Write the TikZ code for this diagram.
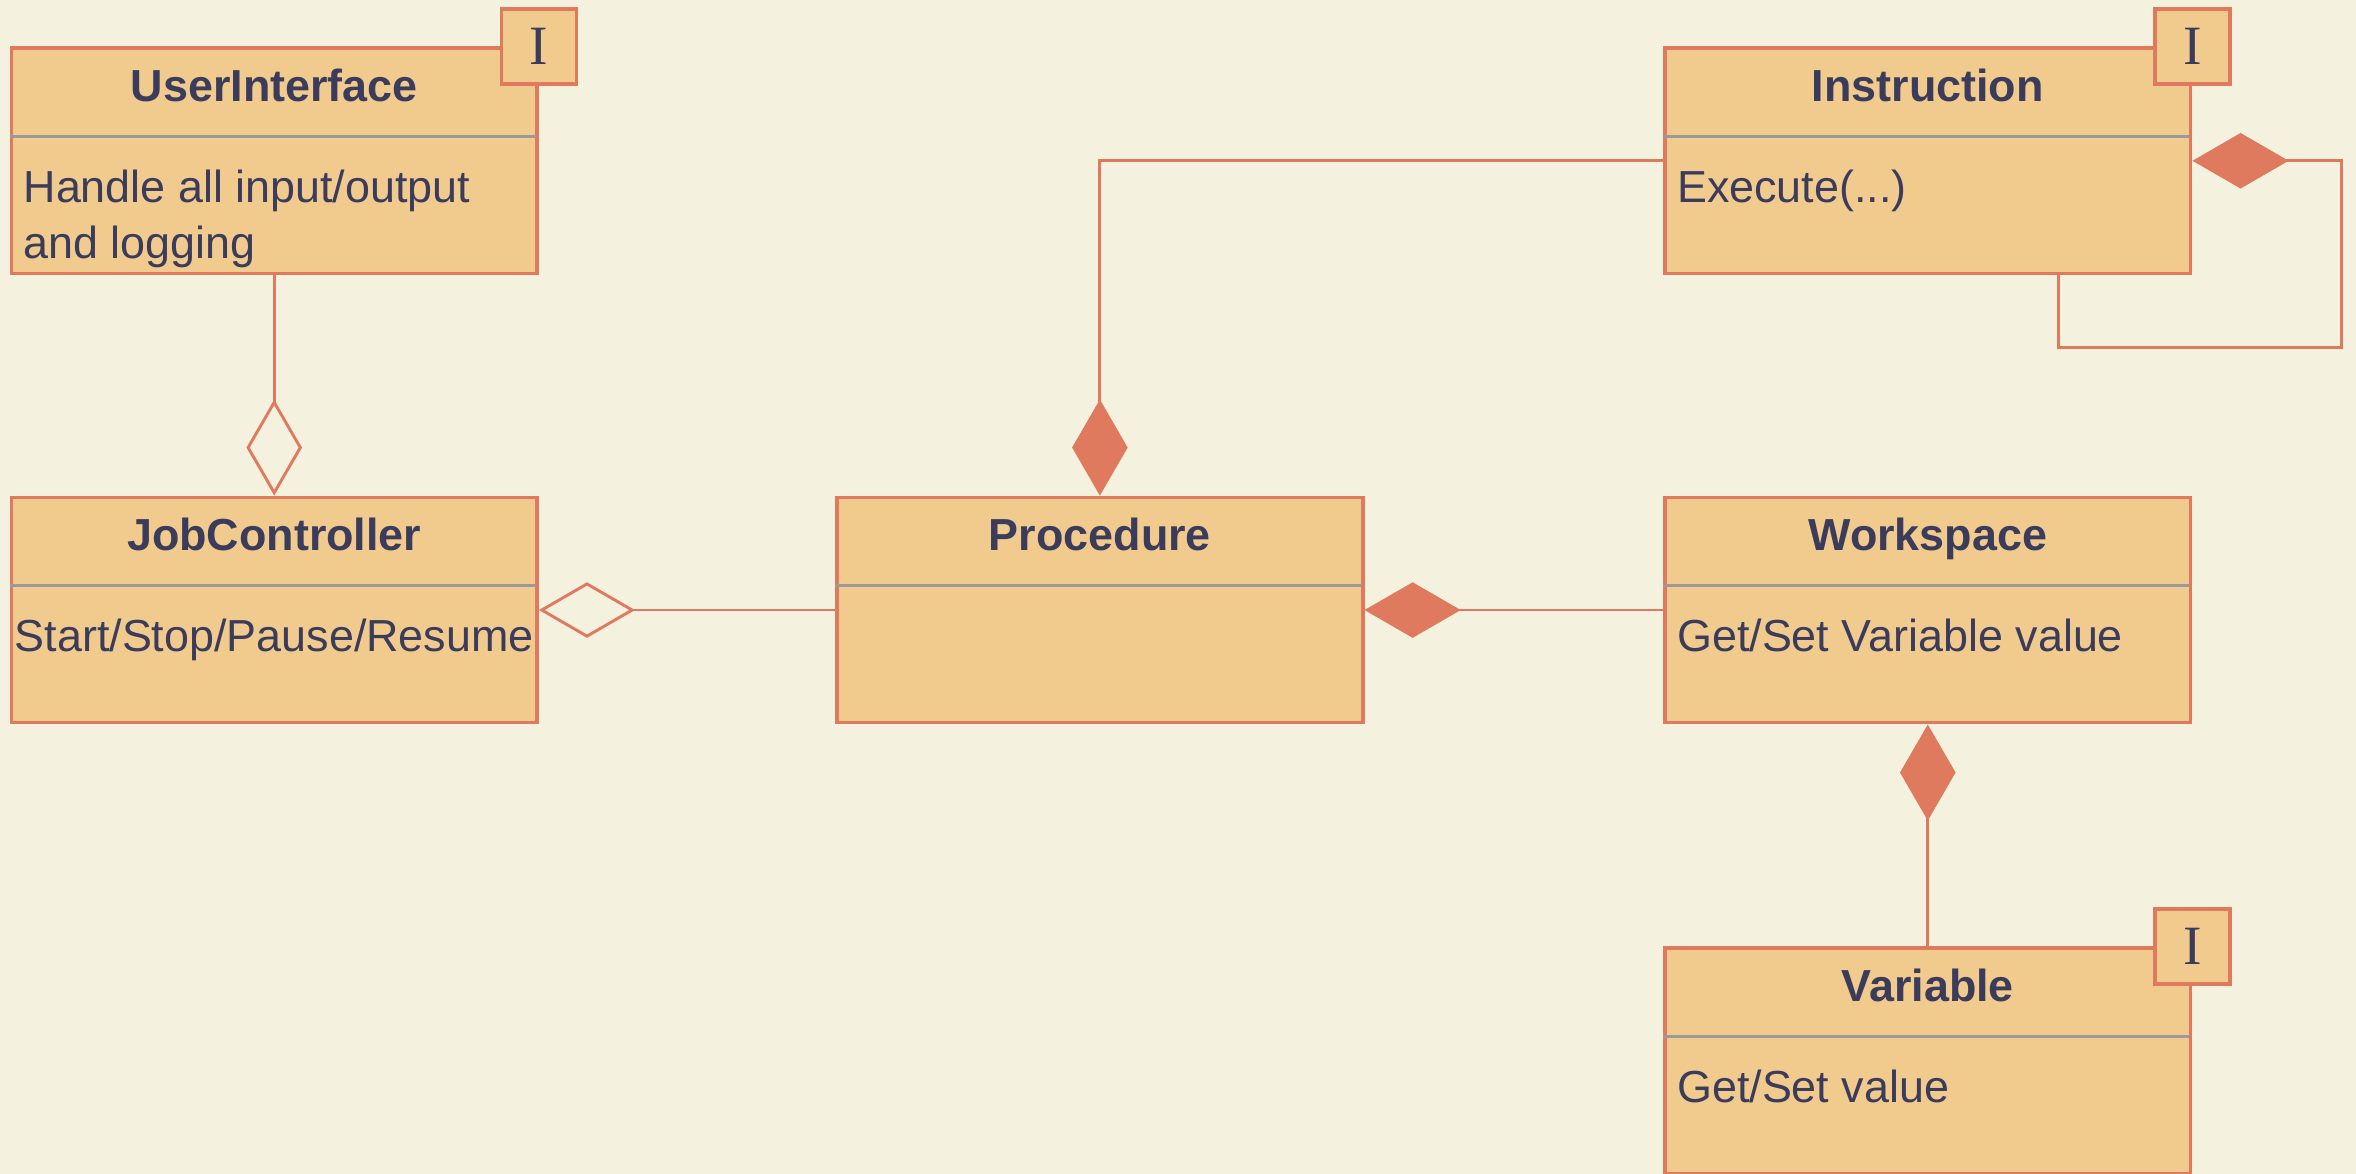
\documentclass[tikz,border=0pt]{standalone}
\usepackage{fontspec}
\setmainfont{Liberation Sans}
\newfontfamily\tagfont{Liberation Serif}
\usetikzlibrary{arrows.meta}
\definecolor{bgcol}{HTML}{F5F1DF}
\definecolor{boxfill}{HTML}{F1CB8D}
\definecolor{boxline}{HTML}{E07A5F}
\definecolor{txtcol}{HTML}{3B3C5C}
\definecolor{sepcol}{HTML}{9A9A9A}
\tikzset{
    classbox/.style = {rectangle, draw=boxline, line width=1.3pt, fill=boxfill, minimum width=7cm, minimum height=3cm, inner sep=0pt},
    tagbox/.style = {rectangle, draw=boxline, line width=1.3pt, fill=boxfill, minimum size=1cm, inner sep=0pt, text=txtcol, font=\tagfont\fontsize{21}{21}\selectfont},
    ctitle/.style = {text=txtcol, font=\bfseries\fontsize{17}{21}\selectfont, inner sep=0pt, anchor=base},
    cbody/.style = {text=txtcol, font=\fontsize{17}{21}\selectfont, align=left, inner sep=0pt, anchor=base west},
    sepline/.style = {draw=sepcol, line width=1.2pt, shorten >=0.04cm},
    edgea/.style = {draw=boxline, line width=1.1pt, -{Diamond[open, length=1.28cm, width=0.74cm]}}, % aggregation
    edgec/.style = {draw=boxline, line width=1.1pt, -{Diamond[length=1.28cm, width=0.74cm]}} % composition
}

\begin{document}
\begin{tikzpicture}
\fill[bgcol] (0,0) rectangle (31.36,-15.62);
\useasboundingbox (0,0) rectangle (31.36,-15.62);
%
\node[classbox] at (3.65, -2.14) (ui) {};
\node[classbox] at (3.65, -8.12) (jc) {};
\node[classbox] at (14.64, -8.12) (proc) {};
\node[classbox] at (25.66, -8.12) (ws) {};
\node[classbox] at (25.66, -2.14) (ins) {};
\node[classbox] at (25.66, -14.12) (var) {};
%
\foreach \n in {ui,jc,proc,ws,ins,var}
    \draw[sepline] ([yshift=-1.2cm]\n.north west) -- ([yshift=-1.2cm]\n.north east);
%
\node[ctitle] at ([yshift=-0.73cm]ui.north) (uit) {UserInterface};
\node[ctitle] at ([yshift=-0.73cm]jc.north) (jct) {JobController};
\node[ctitle] at ([yshift=-0.73cm]proc.north) (proct) {Procedure};
\node[ctitle] at ([yshift=-0.73cm]ws.north) (wst) {Workspace};
\node[ctitle] at ([yshift=-0.73cm]ins.north) (inst) {Instruction};
\node[ctitle] at ([yshift=-0.73cm]var.north) (vart) {Variable};
%
% base of a two-line node is its last line
\node[cbody] at ([xshift=0.18cm, yshift=-2.82cm]ui.north west) (uib) {Handle all input/output\\and logging};
\node[cbody, anchor=base] at ([yshift=-2.08cm]jc.north) (jcb) {Start/Stop/Pause/Resume};
\node[cbody] at ([xshift=0.18cm, yshift=-2.08cm]ws.north west) (wsb) {Get/Set Variable value};
\node[cbody] at ([xshift=0.18cm, yshift=-2.08cm]ins.north west) (insb) {Execute(...)};
\node[cbody] at ([xshift=0.18cm, yshift=-2.08cm]var.north west) (varb) {Get/Set value};
%
\node[tagbox] at (ui.north east) (uitag) {I};
\node[tagbox] at (ins.north east) (instag) {I};
\node[tagbox] at (var.north east) (vartag) {I};
%
\coordinate (insloop) at ([xshift=1.98cm, yshift=-2.48cm]ins.east);
%
\draw[edgea] (ui.south) -- (jc.north);
\draw[edgea] (proc.west) -- (jc.east);
\draw[edgec] (ins.west) -| (proc.north);
\draw[edgec] (ws.west) -- (proc.east);
\draw[edgec] (var.north) -- (ws.south);
\draw[edgec] ([xshift=1.74cm]ins.south) |- (insloop) |- (ins.east);

\end{tikzpicture}
\end{document}
